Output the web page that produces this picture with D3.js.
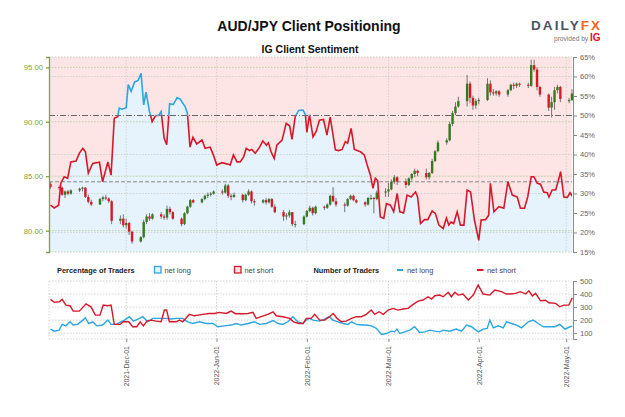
<!DOCTYPE html>
<html>
<head>
<meta charset="utf-8">
<script src="https://cdn.jsdelivr.net/npm/d3@7"></script>
<style>
body { margin: 0; background: #fff; }
svg { font-family: "Liberation Sans", Arial, sans-serif; }
</style>
</head>
<body>
<svg id="chart" width="625" height="417"></svg>
<script>
// daily AUD/JPY candles: date, open, high, low, close
const candles = [
  ["2021-11-05",84.30,84.45,83.85,84.00],["2021-11-08",84.00,84.15,83.75,83.95],["2021-11-09",83.95,84.05,83.20,83.30],
  ["2021-11-10",83.30,83.70,83.00,83.60],["2021-11-11",83.60,83.75,83.25,83.40],["2021-11-12",83.40,83.80,83.30,83.70],
  ["2021-11-15",83.70,83.95,83.55,83.85],["2021-11-16",83.85,84.05,83.60,83.95],["2021-11-17",83.95,84.00,83.00,83.10],
  ["2021-11-18",83.10,83.30,82.50,82.65],["2021-11-19",82.65,82.85,82.25,82.40],["2021-11-22",82.40,83.00,82.35,82.90],
  ["2021-11-23",82.90,83.20,82.70,83.05],["2021-11-24",83.05,83.30,82.80,82.95],["2021-11-25",82.95,83.05,82.55,82.70],
  ["2021-11-26",82.70,82.80,80.60,80.90],["2021-11-29",80.90,81.40,80.60,81.10],["2021-11-30",81.10,81.50,80.30,80.50],
  ["2021-12-01",80.50,81.10,80.20,80.70],["2021-12-02",80.70,80.80,79.60,79.90],["2021-12-03",79.90,80.00,78.80,79.00],
  ["2021-12-06",79.00,79.50,78.90,79.40],["2021-12-07",79.40,81.00,79.30,80.80],["2021-12-08",80.80,81.50,80.60,81.30],
  ["2021-12-09",81.30,81.60,80.90,81.10],["2021-12-10",81.10,81.60,81.00,81.50],["2021-12-13",81.50,81.70,81.10,81.30],
  ["2021-12-14",81.30,81.50,81.00,81.20],["2021-12-15",81.20,82.30,81.00,82.00],["2021-12-16",82.00,82.20,81.50,81.70],
  ["2021-12-17",81.70,81.80,81.00,81.10],["2021-12-20",81.10,81.20,80.40,80.60],["2021-12-21",80.60,81.70,80.50,81.60],
  ["2021-12-22",81.60,82.30,81.50,82.20],["2021-12-23",82.20,82.90,82.10,82.80],["2021-12-24",82.80,82.90,82.50,82.60],
  ["2021-12-27",82.60,83.00,82.50,82.90],["2021-12-28",82.90,83.30,82.80,83.20],["2021-12-29",83.20,83.50,83.00,83.30],
  ["2021-12-30",83.30,83.55,83.15,83.40],["2021-12-31",83.40,83.70,83.30,83.60],["2022-01-03",83.60,83.80,83.30,83.50],
  ["2022-01-04",83.50,84.30,83.40,84.15],["2022-01-05",84.15,84.30,83.00,83.20],["2022-01-06",83.20,83.40,82.80,83.10],
  ["2022-01-07",83.10,83.50,83.00,83.30],["2022-01-10",83.30,83.40,82.60,82.80],["2022-01-11",82.80,83.40,82.70,83.30],
  ["2022-01-12",83.30,83.80,83.20,83.60],["2022-01-13",83.60,83.70,82.50,82.70],["2022-01-14",82.70,82.90,82.30,82.60],
  ["2022-01-17",82.60,82.90,82.50,82.80],["2022-01-18",82.80,83.00,82.40,82.60],["2022-01-19",82.60,83.00,82.50,82.90],
  ["2022-01-20",82.90,83.00,82.10,82.20],["2022-01-21",82.20,82.40,81.60,81.70],["2022-01-24",81.70,81.90,80.90,81.30],
  ["2022-01-25",81.30,81.60,81.00,81.40],["2022-01-26",81.40,81.90,81.20,81.70],["2022-01-27",81.70,81.70,80.40,80.60],
  ["2022-01-28",80.60,80.90,80.30,80.60],["2022-01-31",80.60,81.40,80.50,81.30],["2022-02-01",81.30,81.90,81.20,81.80],
  ["2022-02-02",81.80,82.30,81.70,82.10],["2022-02-03",82.10,82.20,81.40,81.60],["2022-02-04",81.60,82.30,81.50,82.20],
  ["2022-02-07",82.20,82.30,81.90,82.10],["2022-02-08",82.10,82.50,82.00,82.40],["2022-02-09",82.40,83.30,82.30,83.20],
  ["2022-02-10",83.20,84.00,82.60,82.70],["2022-02-11",82.70,83.00,82.20,82.40],["2022-02-14",82.40,82.60,81.70,82.30],
  ["2022-02-15",82.30,83.00,82.20,82.90],["2022-02-16",82.90,83.30,82.80,83.20],["2022-02-17",83.20,83.30,82.70,82.80],
  ["2022-02-18",82.80,82.90,82.50,82.60],["2022-02-21",82.60,82.70,82.20,82.40],["2022-02-22",82.40,83.10,82.30,83.00],
  ["2022-02-23",83.00,83.30,82.80,83.00],["2022-02-24",83.00,83.10,81.60,82.90],["2022-02-25",82.90,83.70,82.80,83.50],
  ["2022-02-28",83.50,83.90,83.10,83.60],["2022-03-01",83.60,84.40,83.10,83.80],["2022-03-02",83.80,84.70,83.70,84.50],
  ["2022-03-03",84.50,85.10,84.30,84.90],["2022-03-04",84.90,85.00,84.20,84.50],["2022-03-07",84.50,84.80,83.90,84.20],
  ["2022-03-08",84.20,84.90,84.10,84.80],["2022-03-09",84.80,85.30,84.60,85.20],["2022-03-10",85.20,85.70,84.90,85.50],
  ["2022-03-11",85.50,85.60,85.00,85.30],["2022-03-14",85.30,85.70,84.70,84.90],["2022-03-15",84.90,85.40,84.70,85.30],
  ["2022-03-16",85.30,86.60,85.20,86.40],["2022-03-17",86.40,87.40,86.30,87.30],["2022-03-18",87.30,88.30,87.20,88.10],
  ["2022-03-21",88.10,88.50,87.90,88.30],["2022-03-22",88.30,90.00,88.20,89.80],["2022-03-23",89.80,91.00,89.60,90.80],
  ["2022-03-24",90.80,91.80,90.60,91.40],["2022-03-25",91.40,92.30,91.30,91.90],["2022-03-28",91.90,94.30,91.40,93.50],
  ["2022-03-29",93.50,93.70,91.70,92.20],["2022-03-30",92.20,92.40,91.10,91.50],["2022-03-31",91.50,92.10,91.20,91.90],
  ["2022-04-01",91.90,92.20,91.60,92.00],["2022-04-04",92.00,94.00,91.90,93.50],["2022-04-05",93.50,93.80,92.40,92.70],
  ["2022-04-06",92.70,93.00,92.40,92.60],["2022-04-07",92.60,92.90,92.40,92.80],["2022-04-08",92.80,92.90,92.30,92.50],
  ["2022-04-11",92.50,93.00,92.30,92.90],["2022-04-12",92.90,93.50,92.80,93.40],["2022-04-13",93.40,93.60,93.00,93.30],
  ["2022-04-14",93.30,93.60,93.10,93.50],["2022-04-15",93.50,93.60,93.20,93.40],["2022-04-18",93.40,93.60,93.10,93.30],
  ["2022-04-19",93.30,95.70,93.20,95.20],["2022-04-20",95.20,95.70,94.60,94.80],["2022-04-21",94.80,95.00,92.90,93.20],
  ["2022-04-22",93.20,93.30,92.30,92.50],["2022-04-25",92.50,92.60,91.00,91.30],["2022-04-26",91.30,92.30,90.40,91.80],
  ["2022-04-27",91.80,93.20,91.10,92.90],["2022-04-28",92.90,93.40,92.60,93.20],["2022-04-29",93.20,93.30,91.80,92.10],
  ["2022-05-02",91.90,92.20,91.70,92.00],["2022-05-03",92.00,93.00,91.90,92.60]
];

// IG client sentiment, % net long (days since 2021-11-05)
const sentDays = [0,1.3,2.8,3.6,4.7,5.9,7.0,8.8,9.9,11.1,12.0,13.0,14.5,16.8,17.9,19.7,20.8,21.9,23.1,23.6,
  24.6,26.0,26.7,27.7,28.9,30.1,31.1,32.0,32.8,34.0,34.9,36.1,37.1,38.0,39.0,39.9,40.9,42.1,43.5,44.5,
  46.2,47.0,47.9,48.9,50.2,52.0,53.1,54.8,55.9,57.1,58.8,60.5,61.7,62.8,64.0,65.1,66.3,67.2,68.3,69.1,
  70.3,71.8,72.9,74.1,74.8,75.7,76.8,77.7,79.5,80.9,82.1,82.9,84.0,85.2,86.7,87.5,88.0,88.9,90.1,91.2,
  92.3,93.7,94.9,96.0,97.8,98.9,100.1,101.2,102.0,103.2,104.3,106.4,107.7,108.7,109.8,110.7,111.5,112.3,113.2,114.4,
  115.3,116.7,117.8,119.0,119.9,121.2,122.4,123.8,125.3,126.0,127.0,128.4,129.5,131.0,132.1,133.3,134.8,135.9,136.7,137.5,
  138.4,139.6,140.7,141.9,143.0,144.2,145.5,147.0,147.8,149.3,150.4,151.0,152.2,153.9,155.6,157.0,158.5,160.2,161.3,162.7,
  163.8,165.0,165.9,167.1,168.2,169.3,170.5,171.1,172.2,173.4,174.2,175.1,176.2,177.4,178.3,179.1];
const sentLong = [27.0,26.3,27.0,32.7,34.3,33.9,38.1,38.3,40.3,41.6,40.7,35.2,37.7,38.0,33.0,38.1,34.7,49.3,49.7,51.9,
  51.6,52.0,57.9,56.2,58.6,59.0,60.8,52.7,56.0,51.0,48.4,50.0,50.0,51.0,44.2,42.5,53.0,52.8,54.6,54.2,
  52.3,50.6,41.9,44.4,42.7,43.7,41.6,41.9,39.9,37.3,37.9,37.6,37.3,39.9,38.1,38.1,39.4,41.6,41.0,41.3,
  40.3,41.9,43.5,42.4,43.0,40.7,39.0,42.4,43.7,48.0,47.3,43.9,49.7,51.3,51.4,50.2,45.7,50.2,44.5,45.9,
  48.8,49.0,45.0,49.6,41.2,41.0,41.3,43.3,42.9,46.7,41.3,40.7,39.9,37.3,34.7,31.3,33.9,33.3,24.0,23.6,
  27.4,27.0,25.3,30.0,25.3,25.0,29.6,29.1,30.4,29.1,22.3,23.3,23.3,25.5,24.9,21.9,21.0,23.7,21.9,22.7,
  22.3,25.3,21.9,21.9,30.9,30.4,23.2,18.0,23.2,23.3,24.4,32.6,25.3,26.6,26.2,33.0,29.6,29.1,26.2,26.2,
  29.1,34.3,34.3,32.6,32.4,30.4,30.2,29.1,30.9,30.9,33.0,35.6,29.1,29.0,30.2,29.3];

// number of traders (days since 2021-11-05)
const shortDays = [0,1.3,3.0,4.0,5.3,6.7,7.8,9.9,12.2,13.9,15.4,17.0,18.1,19.7,20.8,21.9,23.9,25.0,26.9,28.2,
  29.6,30.8,31.9,33.1,34.5,36.3,38.0,39.1,39.9,40.8,43.1,44.3,45.4,47.7,49.4,52.3,54.6,56.3,58.0,60.3,
  62.0,63.5,66.0,67.8,69.5,70.6,72.3,74.6,76.4,77.5,79.8,82.1,83.4,85.3,86.7,87.8,89.5,90.7,92.4,94.1,
  95.8,97.0,98.4,99.8,101.5,103.3,105.0,106.7,108.4,110.1,111.3,112.8,114.2,115.9,117.6,119.3,121.0,122.7,124.5,126.2,
  127.9,129.6,130.8,131.9,133.6,134.8,136.5,137.6,138.8,139.9,141.6,143.4,145.1,146.8,148.5,150.8,152.5,154.8,156.5,157.9,
  159.6,161.3,163.1,164.2,165.4,166.5,168.2,169.9,171.1,173.4,174.8,176.2,177.9,179.1];
const shortCount = [359,336,341,359,315,310,269,269,325,302,238,238,315,310,315,167,167,187,187,149,
  149,187,156,192,200,192,187,277,277,187,187,200,187,244,233,244,251,251,259,251,
  269,249,249,251,259,213,226,244,264,233,226,213,187,174,174,213,213,244,200,200,
  226,251,213,187,192,213,226,226,244,277,244,264,244,277,290,277,285,290,321,346,
  354,379,362,387,392,379,413,379,413,392,400,354,392,469,400,392,431,418,400,400,
  405,418,400,425,385,405,348,352,333,328,302,315,315,372];
const longDays = [0,1.3,3.0,4.0,5.3,6.7,7.8,9.3,11.1,12.0,13.1,14.5,15.9,17.9,19.7,20.8,22.5,24.2,25.4,27.1,
  28.5,30.0,31.7,33.4,35.1,37.4,39.7,41.4,43.1,45.4,47.1,48.9,51.1,53.4,55.7,57.5,59.7,62.0,63.7,65.5,
  67.8,70.0,71.8,74.1,76.4,78.1,79.8,81.5,83.2,84.9,86.7,87.8,88.9,90.1,92.4,94.1,95.6,97.0,98.7,100.4,
  102.1,103.3,105.0,106.7,108.4,110.1,111.9,113.6,115.3,117.0,118.1,118.9,119.9,121.6,123.3,125.0,126.7,128.5,130.2,131.9,
  133.6,134.8,137.0,139.3,141.1,142.8,144.5,146.8,148.5,149.9,150.8,152.0,153.7,155.4,156.5,158.2,160.0,161.7,164.0,165.7,
  167.4,169.2,171.4,173.1,174.8,176.6,178.3,179.1];
const longCount = [131,115,123,167,156,187,162,167,200,218,174,187,156,162,200,167,167,187,200,226,
  192,208,226,187,213,213,213,208,213,213,187,174,187,174,174,149,156,162,174,162,
  174,187,167,174,197,174,167,187,226,187,174,200,213,200,192,208,226,200,187,174,
  167,187,167,162,162,156,136,90,97,115,110,131,97,110,123,149,105,110,123,115,
  110,123,115,131,115,162,149,110,131,136,200,141,156,141,187,174,162,141,187,200,
  174,149,149,149,167,131,149,154];

const priceTicks = [80, 85, 90, 95];
const pctTicks = [15, 20, 25, 30, 35, 40, 45, 50, 55, 60, 65];
const countTicks = [100, 200, 300, 400, 500];
const monthTicks = ["2021-12-01","2022-01-01","2022-02-01","2022-03-01","2022-04-01","2022-05-01"];
const refPct = 33; // grey dashed reference

const red = "#d7182a", blue = "#2aa6e3", green = "#367a1f", axisGreen = "#74a83e";
const parse = d3.timeParse("%Y-%m-%d");
const day0 = parse("2021-11-05");
const fromDay = d => new Date(+day0 + d * 864e5);

const svg = d3.select("#chart");
const L = 49, R = 572, T = 57, B = 252, T2 = 281, B2 = 339;

const x = d3.scaleTime().domain([new Date(2021, 10, 4, 12), new Date(2022, 4, 3)]).range([L, R]);
const yPrice = d3.scaleLinear().domain([78.04, 95.95]).range([B, T]);
const yPct = d3.scaleLinear().domain([15, 65]).range([B, T]);
const yCnt = d3.scaleLinear().domain([55, 500]).range([B2, T2]);

// titles
svg.append("text").attr("x", 309).attr("y", 31).attr("text-anchor", "middle")
  .attr("font-size", 14).attr("font-weight", "bold").attr("fill", "#111").text("AUD/JPY Client Positioning");
svg.append("text").attr("x", 310).attr("y", 53).attr("text-anchor", "middle")
  .attr("font-size", 10.5).attr("font-weight", "bold").attr("fill", "#111").text("IG Client Sentiment");

// logo
const logo = svg.append("text").attr("x", 531).attr("y", 30).attr("font-size", 13.5)
  .attr("font-weight", "bold").attr("letter-spacing", 2.1);
logo.append("tspan").attr("fill", "#4a545f").text("DAILY");
logo.append("tspan").attr("fill", "#f26522").text("FX");
const prov = svg.append("text").attr("x", 554).attr("y", 41).attr("font-size", 6.6).attr("fill", "#777");
prov.append("tspan").text("provided by ");
prov.append("tspan").attr("fill", "#e0101e").attr("font-weight", "bold").attr("font-size", 10).text("IG");

// ---------- main panel ----------
svg.append("defs").call(defs => {
  defs.append("clipPath").attr("id", "above").append("rect")
    .attr("x", L).attr("y", T).attr("width", R - L).attr("height", yPct(50) - T);
  defs.append("clipPath").attr("id", "below").append("rect")
    .attr("x", L).attr("y", yPct(50)).attr("width", R - L).attr("height", B - yPct(50));
});

svg.append("rect").attr("x", L).attr("y", T).attr("width", R - L).attr("height", B - T).attr("fill", "#fde5e5");

const sent = sentDays.map((d, i) => ({ t: fromDay(d), v: sentLong[i] }));
svg.append("path").datum(sent)
  .attr("fill", "#e6f3fc")
  .attr("d", d3.area().x(d => x(d.t)).y0(B).y1(d => yPct(d.v)));

// grid
const grid = svg.append("g").attr("fill", "none").attr("stroke-width", 0.8);
pctTicks.filter(p => p % 10 === 0 && p !== 50).forEach(p => {
  grid.append("line").attr("x1", L).attr("x2", R).attr("y1", yPct(p)).attr("y2", yPct(p))
    .attr("stroke", "#c9c9c9").attr("stroke-dasharray", "1.5,1.5");
});
priceTicks.forEach(p => {
  grid.append("line").attr("x1", L).attr("x2", R).attr("y1", yPrice(p)).attr("y2", yPrice(p))
    .attr("stroke", "#a9c98a").attr("stroke-dasharray", "1.5,1.5");
});
monthTicks.forEach(m => {
  const xm = x(parse(m));
  grid.append("line").attr("x1", xm).attr("x2", xm).attr("y1", T).attr("y2", B)
    .attr("stroke", "#c9c9c9").attr("stroke-dasharray", "1.5,1.5");
  grid.append("line").attr("x1", xm).attr("x2", xm).attr("y1", T2).attr("y2", B2)
    .attr("stroke", "#c9c9c9").attr("stroke-dasharray", "1.5,1.5");
});
[T, B].forEach(yy => {
  grid.append("line").attr("x1", L).attr("x2", R).attr("y1", yy).attr("y2", yy)
    .attr("stroke", "#b8c9a4").attr("stroke-dasharray", "1.5,1.5");
});

svg.append("line").attr("x1", L).attr("x2", R).attr("y1", yPct(50)).attr("y2", yPct(50))
  .attr("stroke", "#666").attr("stroke-width", 1).attr("stroke-dasharray", "6,2,1,2");
svg.append("line").attr("x1", L).attr("x2", R).attr("y1", yPct(refPct)).attr("y2", yPct(refPct))
  .attr("stroke", "#888").attr("stroke-width", 1).attr("stroke-dasharray", "4,2");

// candles
const cg = svg.append("g");
candles.forEach(([ds, o, h, l, c]) => {
  const cx = x(parse(ds));
  cg.append("line").attr("x1", cx).attr("x2", cx).attr("y1", yPrice(h)).attr("y2", yPrice(l))
    .attr("stroke", "#555").attr("stroke-width", 0.8);
  const top = yPrice(Math.max(o, c)), bot = yPrice(Math.min(o, c));
  cg.append("rect").attr("x", cx - 1.2).attr("width", 2.4)
    .attr("y", top).attr("height", Math.max(1, bot - top))
    .attr("fill", c >= o ? green : red);
});

// sentiment line, red below 50%, blue above
const sentLine = d3.line().x(d => x(d.t)).y(d => yPct(d.v));
svg.append("path").datum(sent).attr("clip-path", "url(#below)")
  .attr("fill", "none").attr("stroke", red).attr("stroke-width", 1.6).attr("d", sentLine);
svg.append("path").datum(sent).attr("clip-path", "url(#above)")
  .attr("fill", "none").attr("stroke", blue).attr("stroke-width", 1.6).attr("d", sentLine);

// axes main
const axL = svg.append("g").attr("transform", `translate(${L},0)`)
  .call(d3.axisLeft(yPrice).tickValues(priceTicks).tickFormat(d3.format(".2f")).tickSize(3).tickSizeOuter(3));
axL.selectAll("path,line").attr("stroke", axisGreen).attr("stroke-width", 1.3);
axL.selectAll("text").attr("fill", axisGreen).attr("font-size", 7.7).attr("font-family", "Liberation Sans, Arial, sans-serif");

const axR = svg.append("g").attr("transform", `translate(${R + 1},0)`)
  .call(d3.axisRight(yPct).tickValues(pctTicks).tickFormat(d => d + "%").tickSize(4).tickSizeOuter(0));
axR.selectAll("path,line").attr("stroke", "#888");
axR.selectAll("text").attr("fill", "#666").attr("font-size", 7.5).attr("font-family", "Liberation Sans, Arial, sans-serif");

// ---------- legend ----------
const lg = svg.append("g").attr("font-size", 7.4).attr("fill", "#222");
lg.append("text").attr("x", 57).attr("y", 273).attr("font-weight", "bold").text("Percentage of Traders");
lg.append("rect").attr("x", 154.5).attr("y", 266.5).attr("width", 6.5).attr("height", 6.5)
  .attr("fill", "#e6f3fc").attr("stroke", blue).attr("stroke-width", 1.3);
lg.append("text").attr("x", 164.5).attr("y", 273).attr("fill", "#444").text("net long");
lg.append("rect").attr("x", 234.5).attr("y", 266.5).attr("width", 6.5).attr("height", 6.5)
  .attr("fill", "#fde5e5").attr("stroke", red).attr("stroke-width", 1.3);
lg.append("text").attr("x", 244.5).attr("y", 273).attr("fill", "#444").text("net short");
lg.append("text").attr("x", 313.5).attr("y", 273).attr("font-weight", "bold").text("Number of Traders");
lg.append("line").attr("x1", 397).attr("x2", 403).attr("y1", 270).attr("y2", 270).attr("stroke", blue).attr("stroke-width", 2);
lg.append("text").attr("x", 407).attr("y", 273).attr("fill", "#444").text("net long");
lg.append("line").attr("x1", 477).attr("x2", 483.5).attr("y1", 270).attr("y2", 270).attr("stroke", red).attr("stroke-width", 2);
lg.append("text").attr("x", 487).attr("y", 273).attr("fill", "#444").text("net short");

// ---------- traders panel ----------
const g2 = svg.append("g").attr("fill", "none").attr("stroke-width", 0.8);
countTicks.forEach(v => {
  g2.append("line").attr("x1", L).attr("x2", R).attr("y1", yCnt(v)).attr("y2", yCnt(v))
    .attr("stroke", "#c9c9c9").attr("stroke-dasharray", "1.5,1.5");
});
g2.append("line").attr("x1", L).attr("x2", R).attr("y1", B2).attr("y2", B2)
  .attr("stroke", "#c9c9c9").attr("stroke-dasharray", "1.5,1.5");
g2.append("line").attr("x1", L).attr("x2", L).attr("y1", T2).attr("y2", B2)
  .attr("stroke", "#c9c9c9").attr("stroke-dasharray", "1.5,1.5");

const cntLine = d3.line().x(d => x(d.t)).y(d => yCnt(d.v));
const shortSeries = shortDays.map((d, i) => ({ t: fromDay(d), v: shortCount[i] }));
const longSeries = longDays.map((d, i) => ({ t: fromDay(d), v: longCount[i] }));
svg.append("path").datum(longSeries).attr("fill", "none").attr("stroke", blue).attr("stroke-width", 1.4).attr("d", cntLine);
svg.append("path").datum(shortSeries).attr("fill", "none").attr("stroke", red).attr("stroke-width", 1.4).attr("d", cntLine);

const axR2 = svg.append("g").attr("transform", `translate(${R + 1},0)`)
  .call(d3.axisRight(yCnt).tickValues(countTicks).tickSize(4).tickSizeOuter(4));
axR2.selectAll("path,line").attr("stroke", "#888");
axR2.selectAll("text").attr("fill", "#666").attr("font-size", 7.5).attr("font-family", "Liberation Sans, Arial, sans-serif");

const axB = svg.append("g").attr("transform", `translate(0,${B2})`)
  .call(d3.axisBottom(x).tickValues(monthTicks.map(parse)).tickFormat(d3.timeFormat("%Y-%b-%d")).tickSize(3));
axB.select(".domain").remove();
axB.selectAll("line").attr("stroke", "#888");
axB.selectAll("text").attr("fill", "#555").attr("font-size", 7).attr("font-family", "Liberation Sans, Arial, sans-serif")
  .attr("text-anchor", "end").attr("transform", "rotate(-90)").attr("x", -7).attr("y", 0).attr("dy", "0.35em");
</script>
</body>
</html>
